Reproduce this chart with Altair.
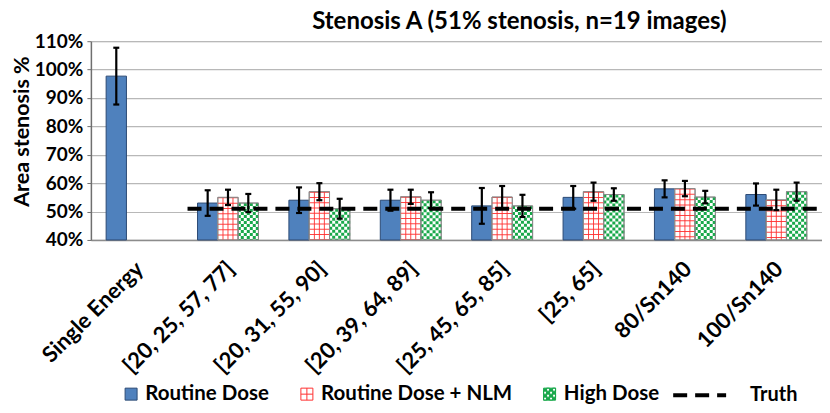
import altair as alt
import pandas as pd

categories = ["Single Energy", "[20, 25, 57, 77]", "[20, 31, 55, 90]", "[20, 39, 64, 89]",
              "[25, 45, 65, 85]", "[25, 65]", "80/Sn140", "100/Sn140"]
series_names = ["Routine Dose", "Routine Dose + NLM", "High Dose"]
routine = [97.7, 53.0, 54.0, 54.0, 52.0, 55.0, 58.0, 56.0]
routine_err = [10.0, 4.5, 4.5, 3.7, 6.3, 4.0, 3.0, 3.9]
nlm = [None, 55.0, 57.0, 55.2, 55.1, 57.0, 58.1, 54.1]
nlm_err = [None, 2.7, 3.0, 2.5, 3.9, 3.2, 2.7, 3.6]
high = [None, 53.0, 51.0, 54.0, 52.0, 56.0, 55.1, 57.0]
high_err = [None, 3.2, 3.5, 2.8, 3.9, 2.2, 2.2, 3.2]
truth_value = 51.0
title_text = "Stenosis A (51% stenosis, n=19 images)"
y_title = "Area stenosis %"

rows = []
for s, vals, errs in zip(series_names, [routine, nlm, high], [routine_err, nlm_err, high_err]):
    for c, v, e in zip(categories, vals, errs):
        if v is None:
            continue
        rows.append({"category": c, "series": s, "value": v, "lo": v - e, "hi": v + e})
df = pd.DataFrame(rows)
truth_df = pd.DataFrame({"start": [categories[1]], "end": [categories[-1]],
                         "truth": [truth_value], "label": ["Truth"]})

FONT = "Lato"
BLUE = "#4f81bd"
BLUE_EDGE = "#2c4a74"
RED = "#ff3030"
GREEN = "#18a84a"
GRAY_EDGE = "#8c8c8c"

xscale = alt.Scale(domain=categories, paddingInner=0.3333, paddingOuter=0.1667)
yscale = alt.Scale(domain=[40, 110], nice=False, zero=False)

x_axis = alt.Axis(labelAngle=-45, labelFont=FONT, labelFontSize=22, labelFontWeight="bold",
                  labelColor="black", labelPadding=18, labelOffset=-4, labelLimit=400, ticks=False,
                  labelOverlap=False, domainColor="#8c8c8c", domainWidth=1.5)
y_axis = alt.Axis(values=list(range(40, 111, 10)), labelExpr="datum.value + '%'",
                  labelFont=FONT, labelFontSize=19, labelFontWeight="bold", labelColor="black",
                  labelOverlap=False, labelBound=False,
                  tickSize=4, tickColor="#6f6f6f", labelPadding=4,
                  domainColor="#6f6f6f", domainWidth=1.5,
                  gridColor="#b8b8b8", gridWidth=1.2,
                  titleFont=FONT, titleFontSize=21.5, titleFontWeight="bold", titleColor="black",
                  titlePadding=1, titleY=90)


def xa(field, pos=None):
    if pos is None:
        return alt.X(field, scale=xscale, sort=categories, title=None, axis=x_axis)
    return alt.X(field, scale=xscale, sort=categories, title=None, axis=x_axis, bandPosition=pos)


def ya(field):
    return alt.Y(field, scale=yscale, title=y_title, axis=y_axis)


x_enc = xa("category:N")
y_enc = ya("value:Q")
xoff = alt.XOffset("series:N", scale=alt.Scale(domain=series_names))

base = alt.Chart(df)
layers = []

# base bars
for s, fill, stroke in zip(series_names, [BLUE, "white", "white"], [BLUE_EDGE, GRAY_EDGE, GRAY_EDGE]):
    layers.append(
        base.transform_filter(alt.datum.series == s)
        .mark_bar(fill=fill, stroke=stroke, strokeWidth=1)
        .encode(x=x_enc, xOffset=xoff, y=y_enc, y2=alt.datum(40))
    )

nlm_data = base.transform_filter(alt.datum.series == series_names[1])
high_data = base.transform_filter(alt.datum.series == series_names[2])

# red grid: horizontal lines
layers.append(nlm_data.mark_rule(color=RED, strokeWidth=20.3, strokeDash=[1, 4.3], opacity=0.9)
              .encode(x=xa("category:N", 0.5), y=y_enc, y2=alt.datum(40)))
# red grid: vertical lines
for dx in [-5, 0, 5]:
    layers.append(nlm_data.mark_rule(color=RED, strokeWidth=1, xOffset=dx, opacity=0.9)
                  .encode(x=xa("category:N", 0.5), y=y_enc, y2=alt.datum(40)))
# green checker
for i, dx in enumerate([-9, -6, -3, 0, 3, 6, 9]):
    layers.append(high_data.mark_rule(color=GREEN, strokeWidth=3, strokeDash=[3, 3],
                                      strokeDashOffset=(3 if i % 2 else 0), xOffset=dx)
                  .encode(x=xa("category:N", 5 / 6), y=y_enc, y2=alt.datum(40)))
# outlines on top
for s in series_names[1:]:
    layers.append(base.transform_filter(alt.datum.series == s)
                  .mark_bar(filled=False, fillOpacity=0, stroke=GRAY_EDGE, strokeWidth=1)
                  .encode(x=x_enc, xOffset=xoff, y=y_enc, y2=alt.datum(40)))

# truth line
layers.append(
    alt.Chart(truth_df).mark_rule(color="black", strokeWidth=4, xOffset=-10, x2Offset=19)
    .encode(x=xa("start:N", 0),
            x2=alt.X2("end:N", bandPosition=1),
            y=ya("truth:Q"),
            strokeDash=alt.StrokeDash("label:N", scale=alt.Scale(domain=["Truth"], range=[[14, 8]]),
                                      legend=alt.Legend(orient="none", legendX=581, legendY=326, title=None,
                                                        symbolType="stroke", symbolSize=2809,
                                                        symbolStrokeWidth=4, symbolStrokeColor="black",
                                                        labelFont=FONT, labelFontSize=20,
                                                        labelFontWeight="bold", labelColor="black",
                                                        labelOffset=22, labelLimit=400, padding=0)))
)

# error bars
layers.append(base.mark_rule(color="black", strokeWidth=2.2)
              .encode(x=x_enc, xOffset=xoff, y=ya("lo:Q"), y2="hi:Q"))
for f in ["lo", "hi"]:
    layers.append(base.mark_tick(color="black", thickness=2.2, size=6, orient="horizontal", opacity=1)
                  .encode(x=x_enc, xOffset=xoff, y=ya(f"{f}:Q")))

# legend carrier (draws nothing)
checker = "M-1,-1H1V1H-1Z"
for r in range(4):
    for c in range(4):
        if (r + c) % 2 == 1:
            x0 = -1 + c * 0.5
            y0 = -1 + r * 0.5
            checker += f"M{x0},{y0}V{y0 + 0.5}H{x0 + 0.5}V{y0}Z"
cross_sq = "M-1,-1H1V1H-1ZM0,-1V1M-1,0H1"
legend_cfg = alt.Legend(orient="none", legendX=30, legendY=343, direction="horizontal", title=None,
                        symbolSize=144, symbolStrokeWidth=1, columnPadding=27, labelOffset=4,
                        labelFont=FONT, labelFontSize=20.5, labelFontWeight="bold", labelColor="black",
                        labelLimit=400, padding=0)
layers.append(
    base.transform_filter("false").mark_point(filled=True, opacity=1)
    .encode(x=x_enc, y=y_enc,
            shape=alt.Shape("series:N", scale=alt.Scale(domain=series_names, range=["square", cross_sq, checker]),
                            legend=legend_cfg),
            fill=alt.Fill("series:N", scale=alt.Scale(domain=series_names, range=[BLUE, "white", GREEN]),
                          legend=legend_cfg),
            stroke=alt.Stroke("series:N", scale=alt.Scale(domain=series_names, range=[BLUE_EDGE, RED, GREEN]),
                              legend=legend_cfg))
)

chart = alt.layer(*layers).properties(
    width=732, height=199,
    autosize=alt.AutoSizeParams(type="none"),
    padding={"left": 83, "top": 33, "right": 0, "bottom": 165},
    title=alt.TitleParams(title_text, font=FONT, fontSize=24, fontWeight="bold", color="black",
                          anchor="middle", frame="group", dx=63, dy=2, offset=0),
).configure_view(stroke="#6f6f6f", strokeWidth=1.2).configure(background="white")

chart.save("out.html", embed_options={"renderer": "svg", "actions": False})
